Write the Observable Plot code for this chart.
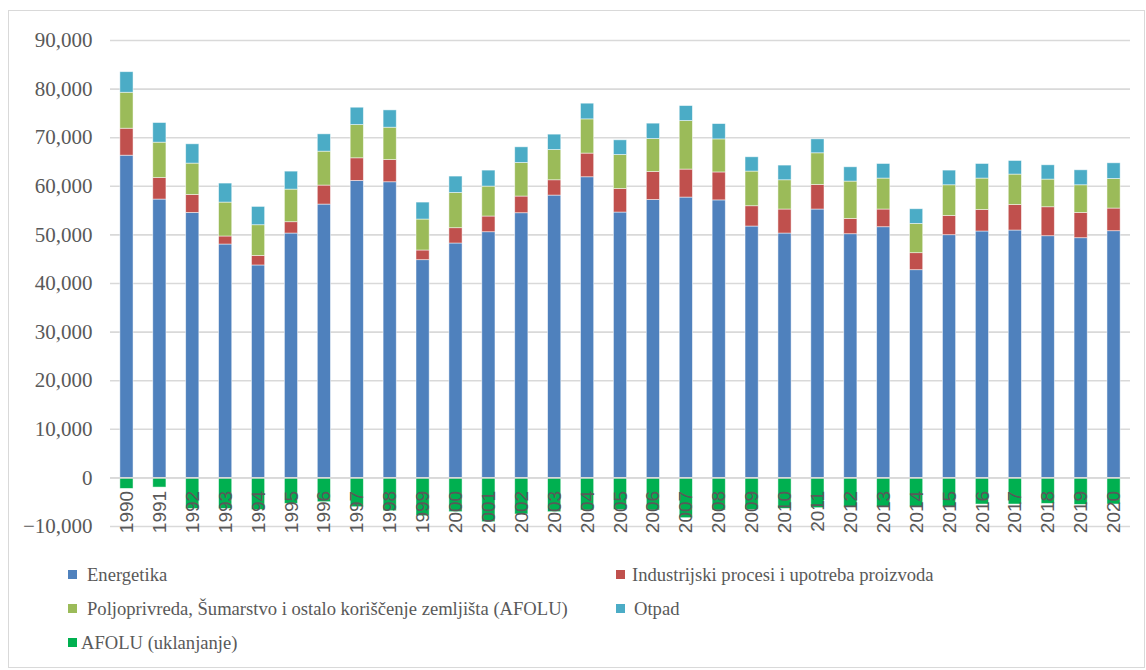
<!DOCTYPE html>
<html><head><meta charset="utf-8">
<script src="https://cdn.jsdelivr.net/npm/d3@7"></script>
<script src="https://cdn.jsdelivr.net/npm/@observablehq/plot@0.6"></script>
<style>
body{margin:0;background:#fff;width:1146px;height:670px;position:relative;overflow:hidden;}
#frame{position:absolute;left:8px;top:10px;width:1137px;height:658px;border:1.5px solid #D9D9D9;box-sizing:border-box;}
#chart{position:absolute;left:0;top:0;}
.leg{position:absolute;font-family:"Liberation Serif",serif;font-size:18.6px;color:#595959;white-space:nowrap;line-height:20px;}
.sw{position:absolute;width:9px;height:9px;}
</style></head><body>
<div id="frame"></div><div id="chart"></div><div id="legend"></div>
<script>
const years = [1990,1991,1992,1993,1994,1995,1996,1997,1998,1999,2000,2001,2002,2003,2004,2005,2006,2007,2008,2009,2010,2011,2012,2013,2014,2015,2016,2017,2018,2019,2020];
const energetika = [66300,57270,54530,48020,43710,50280,56240,61100,60830,44800,48230,50550,54460,58090,61860,54600,57190,57680,57100,51720,50280,55220,50140,51580,42740,49940,50700,50900,49730,49320,50760];
const industrija = [5550,4440,3690,1650,1970,2330,3910,4660,4580,1990,3150,3230,3430,3150,4870,4850,5760,5760,5750,4180,4940,5050,3150,3640,3500,3960,4440,5260,5960,5200,4660];
const afolu = [7400,7270,6450,6980,6310,6710,6980,6840,6650,6370,7250,6160,6910,6230,7040,6990,6780,9990,6800,7130,6020,6520,7680,6370,6020,6310,6450,6250,5690,5690,6090];
const otpad = [4230,4040,3970,3910,3770,3700,3560,3570,3560,3490,3370,3290,3220,3160,3230,3020,3160,3080,3150,2940,3020,2870,2940,3000,3020,3020,3000,2800,2940,3080,3220];
const uklanjanje = [-2260,-1990,-6400,-6400,-6600,-5340,-5000,-6030,-6850,-7880,-7050,-9110,-7530,-7050,-6710,-6580,-6710,-8290,-6710,-6580,-6370,-6230,-6030,-6030,-6030,-6030,-5480,-5480,-5340,-5550,-5480];
const seriesNames = ["Energetika","Industrijski procesi i upotreba proizvoda","Poljoprivreda, Šumarstvo i ostalo koriščenje zemljišta (AFOLU)","Otpad","AFOLU (uklanjanje)"];
const seriesColors = ["#4F81BD","#C0504D","#9BBB59","#4BACC6","#00B050"];
const yTicks = [-10000,0,10000,20000,30000,40000,50000,60000,70000,80000,90000];

const seriesValues = [energetika, industrija, afolu, otpad, uklanjanje];
const rows = [];
seriesNames.forEach((s, si) => years.forEach((yr, i) => rows.push({year: yr, series: s, value: seriesValues[si][i]})));

const chart = Plot.plot({
  width: 1146,
  height: 548,
  marginTop: 40,
  marginBottom: 22,
  marginLeft: 110,
  marginRight: 16,
  style: {background: "transparent", overflow: "visible"},
  x: {type: "band", domain: years, paddingInner: 0.6, paddingOuter: 0.3, round: false, axis: null},
  y: {domain: [-10000, 90000], axis: null},
  color: {domain: seriesNames, range: seriesColors},
  marks: [
    Plot.gridY(yTicks, {stroke: "#D9D9D9", strokeOpacity: 1, strokeWidth: 1.6}),
    Plot.barY(rows, {x: "year", y: "value", fill: "series", order: seriesNames, stroke: "#ffffff", strokeWidth: 0.8, strokeOpacity: 0.6}),
    Plot.ruleY([0], {stroke: "#D9D9D9", strokeWidth: 1.6}),
    Plot.axisY(yTicks, {label: null, tickSize: 0, tickPadding: 18, tickFormat: d3.format(","), fontFamily: "Liberation Serif", fontSize: 21, fill: "#595959"}),
    Plot.text(years, {x: d => d, y: () => 0, text: d => String(d), rotate: -90, textAnchor: "end", dy: 13, fontFamily: "Liberation Sans", fontSize: 19, fill: "#595959"})
  ]
});
document.getElementById("chart").appendChild(chart);

const legendPos = [[68,575],[616,575],[68,609],[616,609],[68,643]];
const textOff = [19,16,19,18,13];
const leg = document.getElementById("legend");
seriesNames.forEach((s, i) => {
  const [lx, ly] = legendPos[i];
  const sw = document.createElement("div");
  sw.className = "sw"; sw.style.left = lx + "px"; sw.style.top = (ly - 5) + "px"; sw.style.background = seriesColors[i];
  leg.appendChild(sw);
  const t = document.createElement("div");
  t.className = "leg"; t.style.left = (lx + textOff[i]) + "px"; t.style.top = (ly - 10) + "px"; t.textContent = s;
  leg.appendChild(t);
});
</script>
</body></html>
